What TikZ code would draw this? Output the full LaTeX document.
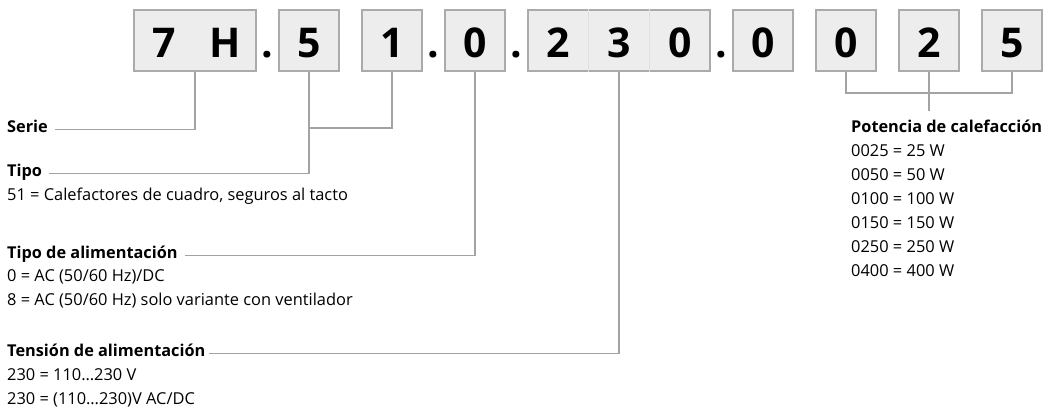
\documentclass[tikz,border=0pt]{standalone}
\usepackage{fontspec}
\setmainfont{Open Sans}
\usetikzlibrary{calc,positioning}
\definecolor{boxfill}{HTML}{EDEDED}
\definecolor{boxline}{HTML}{ABABAB}
\definecolor{cellline}{HTML}{E0E0E0}
\definecolor{leadgray}{HTML}{A3A3A3}

\begin{document}
\begin{tikzpicture}[x=1pt,y=-1pt,
    codebox/.style={draw=boxline, fill=boxfill, line width=1.4pt, inner sep=0pt,
        minimum height=61pt, minimum width=60pt, text height=33pt, text depth=0pt,
        font=\fontsize{41}{41}\selectfont\bfseries},
    codedot/.style={anchor=base, inner sep=0pt, font=\fontsize{41}{41}\selectfont\bfseries},
    lead/.style={draw=leadgray, line width=1.1pt},
    titlelead/.style={lead, shorten >=7pt},
    title/.style={anchor=base west, inner sep=0pt, font=\fontsize{16.3}{18}\selectfont\bfseries},
    entry/.style={anchor=base west, inner sep=0pt, font=\fontsize{16.4}{18}\selectfont}]
    \useasboundingbox (0,0) rectangle (1051,410);

    % code boxes
    \node[codebox, minimum width=122pt] (b7H) at (195,40.5) {\makebox[61pt]{7}\makebox[61pt]{H}};
    \node[codedot] (d1) at (267.5,57) {.};
    \node[codebox] (b5) at (309,40.5) {5};
    \node[codebox] (b1) at (392,40.5) {1};
    \node[codedot] (d2) at (433.5,57) {.};
    \node[codebox] (b0) at (475,40.5) {0};
    \node[codedot] (d3) at (516.5,57) {.};
    \node[codebox, minimum width=182pt] (b230) at (619,40.5)
        {\makebox[60.7pt]{2}\makebox[60.7pt]{3}\makebox[60.7pt]{0}};
    \node[codedot] (d4) at (721.5,57) {.};
    \node[codebox] (c0a) at (763,40.5) {0};
    \node[codebox] (c0b) at (846,40.5) {0};
    \node[codebox] (c2) at (929,40.5) {2};
    \node[codebox] (c5) at (1012,40.5) {5};
    \draw[cellline, line width=0.6pt] ($(b230.north west)!1/3!(b230.north east)$) -- ($(b230.south west)!1/3!(b230.south east)$);
    \draw[cellline, line width=0.6pt] ($(b230.north west)!2/3!(b230.north east)$) -- ($(b230.south west)!2/3!(b230.south east)$);

    % left side legend
    \node[title] (serie) at (7,132) {Serie};
    \node[title] (tipo) at (7,176) {Tipo};
    \node[entry] (tipo1) at (7,200) {51 = Calefactores de cuadro, seguros al tacto};
    \node[title] (alim) at (7,258) {Tipo de alimentación};
    \node[entry] (alim1) at (7,281) {0 = AC (50/60 Hz)/DC};
    \node[entry] (alim2) at (7,305) {8 = AC (50/60 Hz) solo variante con ventilador};
    \node[title] (tension) at (7,356) {Tensión de alimentación};
    \node[entry] (tension1) at (7,380) {230 = 110…230 V};
    \node[entry] (tension2) at (7,404) {230 = (110…230)V AC/DC};

    % right side legend
    \node[title] (potencia) at (851,132) {Potencia de calefacción};
    \foreach \pw [count=\i] in {0025 = 25 W, 0050 = 50 W, 0100 = 100 W,
        0150 = 150 W, 0250 = 250 W, 0400 = 400 W}
        \node[entry] (pw\i) at (851,132+24*\i) {\pw};

    % leaders
    \coordinate (tipojoin) at (309,128);
    \coordinate (potjoin) at (929,93);
    \draw[titlelead] (b7H.south) |- (serie.mid east);
    \draw[lead] (b1.south) |- (tipojoin);
    \draw[titlelead] (b5.south) |- (tipo.mid east);
    \draw[titlelead] (b0.south) |- (alim.mid east);
    \draw[lead, shorten >=3pt] (b230.south) |- (tension.mid east);
    \draw[lead] (c0b.south) |- (potjoin) -| (c5.south);
    \draw[lead, shorten >=8pt] (c2.south) -- (c2.south |- potencia.north);
\end{tikzpicture}
\end{document}
